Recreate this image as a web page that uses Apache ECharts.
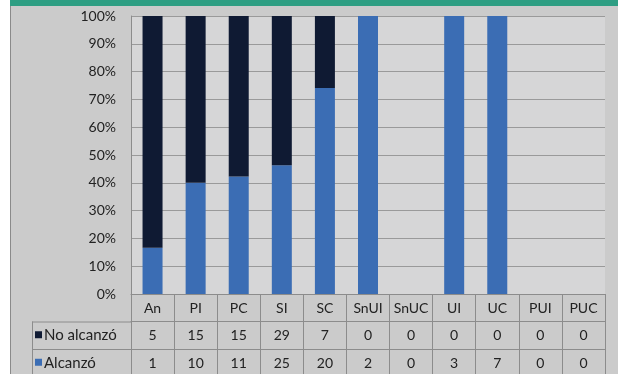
<!DOCTYPE html>
<html>
<head>
<meta charset="utf-8">
<script src="https://cdn.jsdelivr.net/npm/echarts@6/dist/echarts.min.js"></script>
<style>
  html, body { margin: 0; padding: 0; background: #ffffff; }
  #chart { width: 618px; height: 374px; }
</style>
</head>
<body>
<div id="chart"></div>
<script>
// Categories and raw counts per category
const categories = ['An', 'PI', 'PC', 'SI', 'SC', 'SnUI', 'SnUC', 'UI', 'UC', 'PUI', 'PUC'];
const noAlcanzo = [5, 15, 15, 29, 7, 0, 0, 0, 0, 0, 0];
const alcanzo   = [1, 10, 11, 25, 20, 2, 0, 3, 7, 0, 0];
const seriesNames = ['No alcanzó', 'Alcanzó'];
const yTicks = [0, 10, 20, 30, 40, 50, 60, 70, 80, 90, 100];

// Share of each category's total, in percent
function share(part, other) {
  return part.map((v, i) => {
    const t = v + other[i];
    return t === 0 ? 0 : (v / t) * 100;
  });
}
const alcanzoPct = share(alcanzo, noAlcanzo);
const noAlcanzoPct = share(noAlcanzo, alcanzo);

const FONT = 'Lato, "Open Sans", sans-serif';
const TXT = '#222222';
const LINE = '#8c8c8c';
const DARK = '#0f1a33';
const BLUE = '#3b6db4';
const TABLE_FS = 14;

const GRID_LEFT = 131, GRID_TOP = 16, GRID_W = 474, GRID_H = 278;
const ROW_H = 27.5;
const TABLE_TOP = GRID_TOP + GRID_H;

const chart = echarts.init(document.getElementById('chart'), null, { renderer: 'canvas' });

function tableAxis(values, offset, extra) {
  return Object.assign({
    type: 'category',
    data: values.map(String),
    position: 'bottom',
    offset: offset,
    gridIndex: 0,
    axisLine: { show: true, lineStyle: { color: LINE, width: 1 } },
    axisTick: { show: false },
    axisLabel: { interval: 0, margin: 7, color: TXT, fontFamily: FONT, fontSize: TABLE_FS },
    splitLine: { show: false }
  }, extra || {});
}

// Row labels of the data table, each with its colour key
const rowColors = [DARK, BLUE];
const rowGraphics = [];
seriesNames.forEach((name, i) => {
  const cy = TABLE_TOP + ROW_H * (i + 1.5);
  rowGraphics.push({ type: 'rect', shape: { x: 35, y: cy - 4, width: 7, height: 7 }, style: { fill: rowColors[i] }, silent: true });
  rowGraphics.push({
    type: 'text', x: 44, y: cy,
    style: { text: name, fill: TXT, font: '15px ' + FONT, textVerticalAlign: 'middle', verticalAlign: 'middle' },
    silent: true
  });
});

chart.setOption({
  backgroundColor: '#cbcbcb',
  animation: false,
  textStyle: { fontFamily: FONT },
  grid: {
    left: GRID_LEFT, top: GRID_TOP, width: GRID_W, height: GRID_H,
    show: true, backgroundColor: '#d6d6d7', borderWidth: 0
  },
  xAxis: [
    tableAxis(categories, 0, {
      axisTick: { show: true, interval: 0, alignWithLabel: false, length: ROW_H * 3 + 4, lineStyle: { color: LINE } }
    }),
    tableAxis(noAlcanzo, ROW_H),
    tableAxis(alcanzo, ROW_H * 2)
  ],
  yAxis: {
    type: 'value',
    min: 0, max: 100, interval: 10,
    axisLine: { show: true, lineStyle: { color: LINE } },
    axisTick: { show: false },
    axisLabel: {
      margin: 15, color: TXT, fontFamily: FONT, fontSize: 14,
      formatter: v => yTicks.includes(v) ? v + '%' : ''
    },
    splitLine: { show: true, lineStyle: { color: '#9a9a9a', width: 1 } }
  },
  series: [
    {
      name: seriesNames[1], type: 'bar', stack: 'total', xAxisIndex: 0,
      data: alcanzoPct, barWidth: 20, itemStyle: { color: BLUE }
    },
    {
      name: seriesNames[0], type: 'bar', stack: 'total', xAxisIndex: 0,
      data: noAlcanzoPct, barWidth: 20, itemStyle: { color: DARK }
    }
  ],
  graphic: [
    // white margin on the left and the green header band
    { type: 'rect', shape: { x: 0, y: 0, width: 10, height: 374 }, style: { fill: '#ffffff' }, silent: true },
    { type: 'rect', shape: { x: 10, y: 0, width: 608, height: 6 }, style: { fill: '#2e9e83' }, silent: true },
    { type: 'line', shape: { x1: 10.5, y1: 6, x2: 10.5, y2: 374 }, style: { stroke: '#8a8a8a', lineWidth: 1 }, silent: true },
    // row-label column of the data table
    { type: 'line', shape: { x1: 32.5, y1: TABLE_TOP + ROW_H, x2: 32.5, y2: 374 }, style: { stroke: LINE, lineWidth: 1 }, silent: true },
    { type: 'line', shape: { x1: 32, y1: TABLE_TOP + ROW_H + 0.5, x2: GRID_LEFT, y2: TABLE_TOP + ROW_H + 0.5 }, style: { stroke: LINE, lineWidth: 1 }, silent: true },
    { type: 'line', shape: { x1: 32, y1: TABLE_TOP + ROW_H * 2 + 0.5, x2: GRID_LEFT, y2: TABLE_TOP + ROW_H * 2 + 0.5 }, style: { stroke: LINE, lineWidth: 1 }, silent: true }
  ].concat(rowGraphics)
});
</script>
</body>
</html>
